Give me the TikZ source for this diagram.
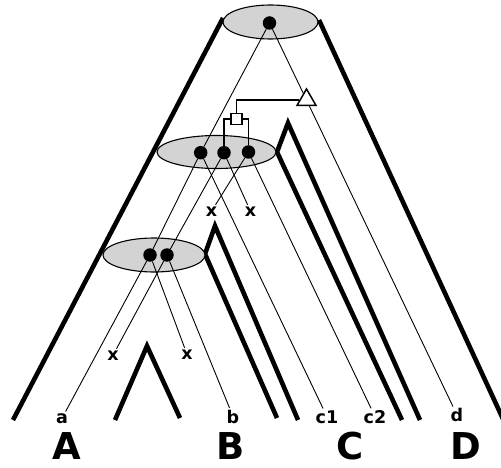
\documentclass[tikz,border=0pt]{standalone}
\usepackage{fontspec}
\setmainfont{DejaVu Sans}
\usetikzlibrary{shapes.geometric}
\definecolor{SpFill}{HTML}{D3D3D3}

\begin{document}
\begin{tikzpicture}[
  x=1pt,y=-1pt,
  spedge/.style={line width=4.6pt},
  genedge/.style={line width=0.9pt},
  linkedge/.style={line width=1.3pt},
  spnode/.style={ellipse,draw,fill=SpFill,line width=1.1pt,inner sep=0pt},
  genedot/.style={circle,fill=black,inner sep=0pt,minimum size=13.5pt},
  dupbox/.style={rectangle,draw,fill=white,line width=1.5pt,inner sep=0pt,
    minimum size=11pt},
  xfertri/.style={regular polygon,regular polygon sides=3,draw,fill=white,
    line width=1.5pt,inner sep=0pt,minimum size=22pt},
  leaf/.style={font=\bfseries\fontsize{17.5}{20}\selectfont,anchor=base,
    inner sep=1.5pt},
  species/.style={font=\bfseries\fontsize{37}{40}\selectfont,anchor=base,
    inner sep=0pt}
]
\useasboundingbox (0,0) rectangle (501,468);

% species tree walls
\draw[spedge] (223,18) -- (13,420);
\draw[spedge] (319,20) -- (503,419);
\draw[spedge] (115,420) -- (147,346) -- (180,418);
\draw[spedge] (277,418) -- (205,254) -- (215,226) -- (298,420);
\draw[spedge] (402,420) -- (277,152) -- (288,123) -- (420,420);

% ancestral species
\node[spnode,minimum width=95pt,minimum height=34pt] (sproot) at (270.5,22) {};
\node[spnode,minimum width=119pt,minimum height=33pt] (spabc) at (216.5,152) {};
\node[spnode,minimum width=102pt,minimum height=34pt] (spab) at (154,255) {};

% gene tree nodes
\node[genedot] (groot) at (269.5,23) {};
\node[genedot] (gm1) at (200.7,152.7) {};
\node[genedot] (gm2) at (224,152.7) {};
\node[genedot] (gm3) at (248.5,152) {};
\node[genedot] (gl1) at (150,255) {};
\node[genedot] (gl2) at (167,255) {};
\node[dupbox] (dup) at (236.5,119) {};
\node[xfertri] (xfer) at (306.5,100) {};

% leaves and losses
\node[leaf] (ga) at (62,423) {a};
\node[leaf] (gb) at (233,423) {b};
\node[leaf] (gc1) at (327,423) {c1};
\node[leaf] (gc2) at (375,423) {c2};
\node[leaf] (gd) at (457,421.5) {d};
\node[leaf] (loss1) at (113,360) {x};
\node[leaf] (loss2) at (187,359) {x};
\node[leaf] (loss3) at (211.5,216) {x};
\node[leaf] (loss4) at (250.5,216) {x};

\draw[genedge] (groot) -- (gm1);
\draw[genedge] (groot) -- (xfer) -- (gd);
\draw[linkedge] (xfer) -| (dup);
\draw[linkedge] (dup.west) -| (gm2);
\draw[linkedge] (dup.east) -| (gm3);
\draw[genedge] (gm1) -- (gl1);
\draw[genedge] (gm1) -- (gc1);
\draw[genedge] (gm2) -- (gl2);
\draw[genedge] (gm2) -- (loss4);
\draw[genedge] (gm3) -- (loss3);
\draw[genedge] (gm3) -- (gc2);
\draw[genedge] (gl1) -- (ga);
\draw[genedge] (gl1) -- (loss2);
\draw[genedge] (gl2) -- (loss1);
\draw[genedge] (gl2) -- (gb);

% species names
\node[species] (spA) at (67,459) {A};
\node[species] (spB) at (231,459) {B};
\node[species] (spC) at (350,459.5) {C};
\node[species] (spD) at (466,459.5) {D};

\end{tikzpicture}
\end{document}
